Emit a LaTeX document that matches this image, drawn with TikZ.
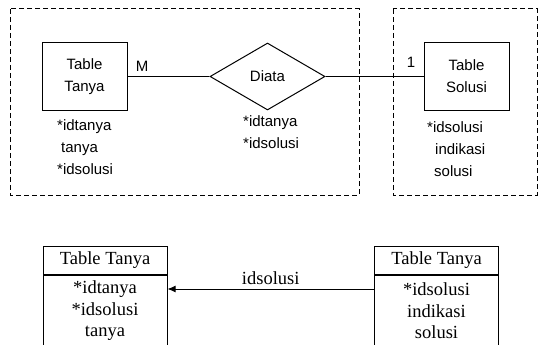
\documentclass[tikz,border=0pt]{standalone}
\usepackage{fontspec}
\setmainfont{Liberation Serif}
\setsansfont{Liberation Sans}
\usetikzlibrary{positioning,shapes.geometric,arrows.meta}

\begin{document}
\begin{tikzpicture}[x=1pt,y=-1pt,
    er/.style={font=\sffamily\fontsize{15}{22}\selectfont},
    entity/.style={er,draw,line width=1pt,minimum width=85pt,minimum height=68pt,align=center},
    relation/.style={er,draw,diamond,line width=1pt,minimum width=115pt,minimum height=67pt,inner sep=0pt},
    attrs/.style={er,align=left,anchor=north west,inner sep=0pt},
    frame/.style={dash pattern=on 5pt off 3pt,line width=1pt},
    header/.style={draw,line width=1pt,minimum width=124pt,minimum height=28pt,
      font=\fontsize{18.5}{21.5}\selectfont},
    body/.style={header,minimum height=72pt,align=center}]
      \useasboundingbox (0,0) rectangle (539,345);
      \clip (0,0) rectangle (539,345);

      % ER part
      \draw [frame] (10,9) rectangle (359,195);
      \draw [frame] (393,9) rectangle (537,195);

      \node [entity]   (tanya)  at (84.5,76.5)  {Table\\Tanya};
      \node [relation] (diata)  at (267.5,76.5) {Diata};
      \node [entity]   (solusi) at (466.5,76.5) {Table\\Solusi};

      \draw [line width=1pt] (tanya) to (diata);
      \draw [line width=1pt] (diata) to (solusi);

      \node [er] (many) at (142,66) {M};
      \node [er] (one)  at (411,62) {1};

      \node [attrs] (tanyaattr)  at (57,119)  {*idtanya\\\hspace{4pt}tanya\\*idsolusi};
      \node [attrs] (diataattr)  at (243,115) {*idtanya\\*idsolusi};
      \node [attrs] (solusiattr) at (427,121) {*idsolusi\\\hspace{8pt}indikasi\\\hspace{7pt}solusi};

      % table part
      \node [header] (headtanya)  at (105,260)   {Table Tanya};
      \node [body, below=0pt of headtanya]  (bodytanya)  {*idtanya\\*idsolusi\\tanya};
      \node [header] (headsolusi) at (436.5,260) {Table Tanya};
      \node [body, below=0pt of headsolusi] (bodysolusi) {*idsolusi\\indikasi\\solusi};

      \draw [-{Latex[length=8pt,width=7pt]}, line width=1pt]
        ([yshift=22pt]bodysolusi.west) to
        node [above, font=\fontsize{18.5}{21.5}\selectfont] {idsolusi}
        ([yshift=22pt]bodytanya.east);
    \end{tikzpicture}
\end{document}
